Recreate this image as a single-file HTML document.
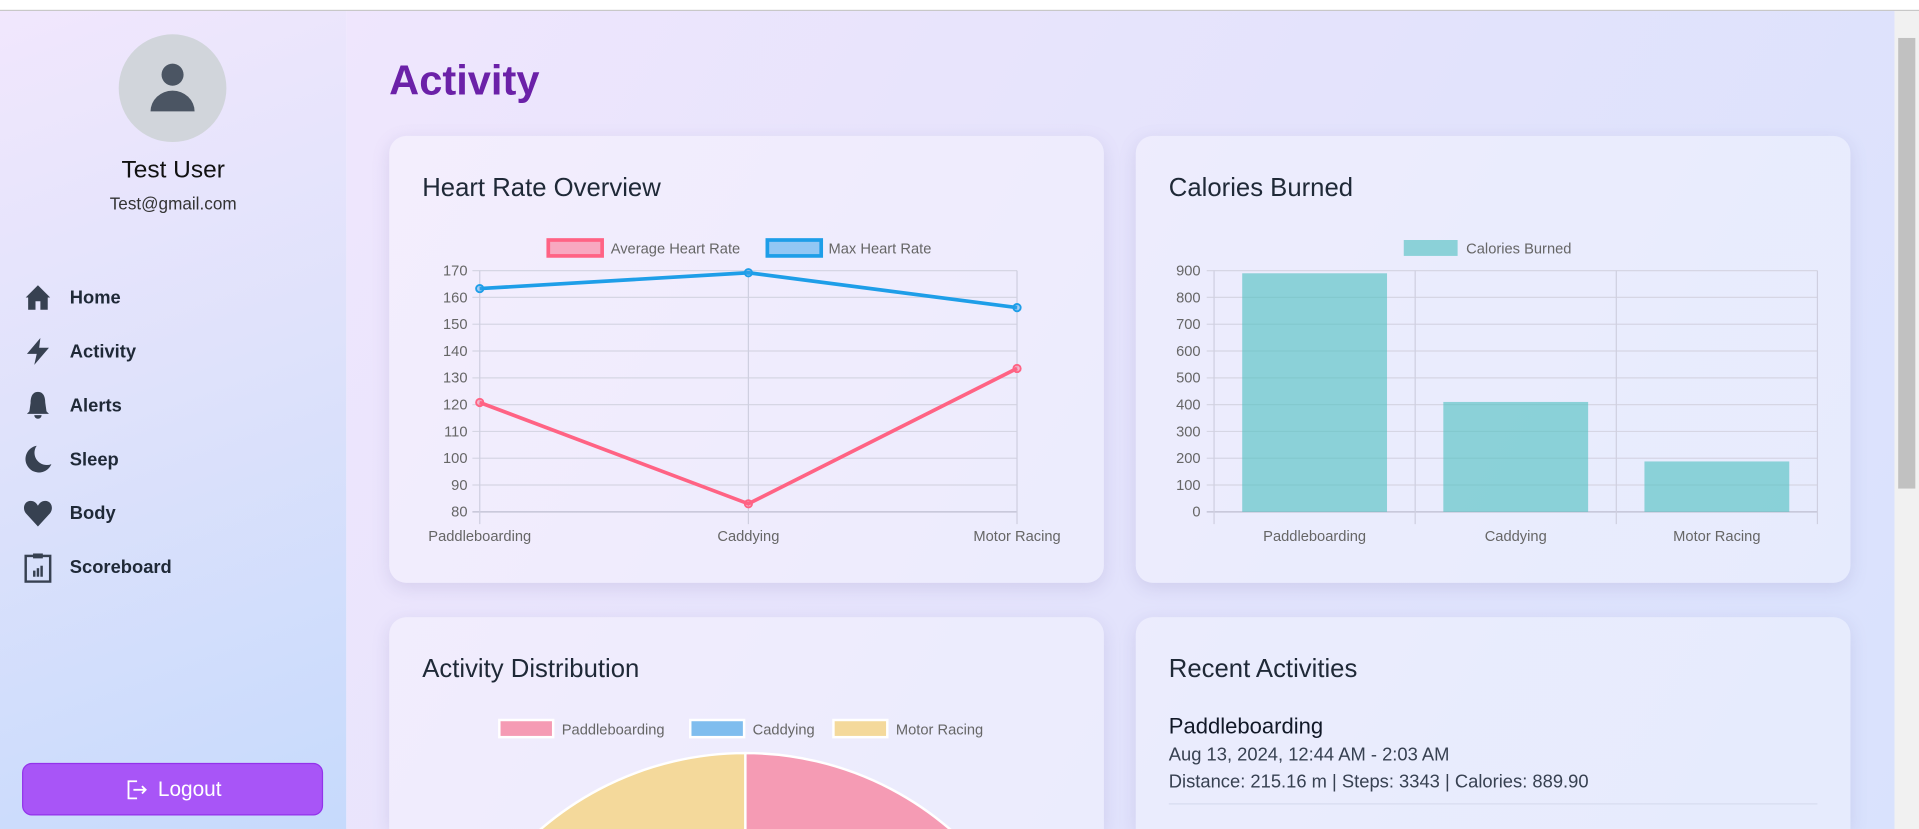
<!DOCTYPE html>
<html><head><meta charset="utf-8">
<style>
*{box-sizing:border-box;margin:0;padding:0}
html,body{width:1919px;height:829px;overflow:hidden;background:#fff}
#scale{position:absolute;left:0;top:0;width:1568px;height:677px;overflow:hidden;transform:scale(1.22385,1.2245);transform-origin:0 0;font-family:"Liberation Sans",sans-serif}
#topbar{position:absolute;left:0;top:0;width:1568px;height:9px;background:#fff;border-bottom:1px solid #c8c8c8}
#sidebar{position:absolute;left:0;top:9px;width:283px;height:668px;background:linear-gradient(160deg,#f1e7fd 0%,#dfe2fb 45%,#c6dafc 100%)}
#main{position:absolute;left:283px;top:9px;width:1265px;height:668px;background:linear-gradient(120deg,#efe6fd 0%,#e4e3fc 50%,#d9e2fd 100%);overflow:hidden}
#scroll{position:absolute;left:1548px;top:9px;width:20px;height:668px;background:#f1f1f1}
#thumb{position:absolute;left:3px;top:22px;width:14px;height:368px;background:#c1c1c1}
.card{position:absolute;width:584px;background:rgba(255,255,255,0.32);border-radius:14px;box-shadow:0 4px 14px rgba(120,110,170,0.18)}
.card.cut{height:173px;overflow:hidden;border-radius:14px 14px 0 0}
.ctitle{position:absolute;left:27px;top:31px;font-size:21px;color:#1f2937}
.nav{position:absolute;left:18px;height:26px;display:flex;align-items:center;font-weight:bold;font-size:15px;color:#1f2937}
.nav svg{width:26px;height:26px;margin-right:13px}
svg text{font-family:"Liberation Sans",sans-serif}
</style></head><body>
<div id="scale">
<div id="topbar"></div>
<div id="sidebar">
  <div style="position:absolute;left:97px;top:19px;width:88px;height:88px;border-radius:50%;background:#d1d5db">
    <svg width="88" height="88"><circle cx="44" cy="33" r="9" fill="#4b5563"/><path d="M26 63 a18 17 0 0 1 36 0 z" fill="#4b5563"/></svg>
  </div>
  <div style="position:absolute;left:0;width:283px;top:119px;text-align:center;font-size:20px;color:#111">Test User</div>
  <div style="position:absolute;left:0;width:283px;top:149px;text-align:center;font-size:14px;color:#333">Test@gmail.com</div>
  <div class="nav" style="top:221px"><svg viewBox="0 0 26 26"><path d="M3 13 L13 3 L23 13 L21 13 L21 23 L15 23 L15 16 L11 16 L11 23 L5 23 L5 13 Z" fill="#374151"/></svg>Home</div>
  <div class="nav" style="top:265px"><svg viewBox="0 0 26 26"><path d="M15 2 L4 15 L12 15 L10 24 L22 10 L14 10 Z" fill="#374151"/></svg>Activity</div>
  <div class="nav" style="top:309px"><svg viewBox="0 0 26 26"><path d="M13 2 C8 2 7 7 7 11 L6 18 L4 20 L22 20 L20 18 L19 11 C19 7 18 2 13 2 Z M10 21 a3 3 0 0 0 6 0 Z" fill="#374151"/></svg>Alerts</div>
  <div class="nav" style="top:353px"><svg viewBox="0 0 26 26"><path d="M12 2 A11 11 0 1 0 24 17 A10 10 0 0 1 12 2 Z" fill="#374151"/></svg>Sleep</div>
  <div class="nav" style="top:397px"><svg viewBox="0 0 26 26"><path d="M13 24 L3 13 C0 9 2 3 7 3 C10 3 12 5 13 7 C14 5 16 3 19 3 C24 3 26 9 23 13 Z" fill="#374151"/></svg>Body</div>
  <div class="nav" style="top:441px"><svg viewBox="0 0 26 26"><rect x="3" y="4" width="20" height="21" fill="none" stroke="#374151" stroke-width="2"/><rect x="9" y="2" width="8" height="4" fill="#374151"/><rect x="9" y="16" width="2" height="5" fill="#374151"/><rect x="12" y="14" width="2" height="7" fill="#374151"/><rect x="15" y="12" width="2" height="9" fill="#374151"/></svg>Scoreboard</div>
  <div style="position:absolute;left:18px;top:614px;width:246px;height:43px;border-radius:8px;background:#a855f7;border:1px solid #9333ea;color:#fff;font-size:17px;display:flex;align-items:center;justify-content:center">
    <svg width="20" height="20" viewBox="0 0 20 20" style="margin-right:8px"><path d="M11 3 H4 V17 H11 M8 10 H18 M15 7 L18 10 L15 13" fill="none" stroke="#fff" stroke-width="1.5"/></svg>Logout</div>
</div>
<div id="main">
  <div style="position:absolute;left:35px;top:38px;font-size:34px;font-weight:bold;color:#6b21a8">Activity</div>
</div>
<div class="card" style="left:318px;top:111px;height:365px">
  <div class="ctitle">Heart Rate Overview</div>
  <svg id="c1" width="584" height="365" style="position:absolute;left:0;top:0"></svg>
</div>
<div class="card" style="left:928px;top:111px;height:365px">
  <div class="ctitle">Calories Burned</div>
  <svg id="c2" width="584" height="365" style="position:absolute;left:0;top:0"></svg>
</div>
<div class="card cut" style="left:318px;top:504px">
  <div class="ctitle">Activity Distribution</div>
  <svg id="c3" width="584" height="173" style="position:absolute;left:0;top:0"></svg>
</div>
<div class="card cut" style="left:928px;top:504px">
  <div class="ctitle">Recent Activities</div>
  <div style="position:absolute;left:27px;top:79px;font-size:18px;color:#111827">Paddleboarding</div>
  <div style="position:absolute;left:27px;top:104px;font-size:15px;color:#374151">Aug 13, 2024, 12:44 AM - 2:03 AM</div>
  <div style="position:absolute;left:27px;top:126px;font-size:15px;color:#374151">Distance: 215.16 m | Steps: 3343 | Calories: 889.90</div>
  <div style="position:absolute;left:27px;top:152px;width:530px;height:1px;background:#d7dcef"></div>
</div>
<div id="scroll"><div id="thumb"></div></div>
</div>
<script>
const categories=["Paddleboarding","Caddying","Motor Racing"];
const avgHR=[120.8,83,133.5];
const maxHR=[163.3,169.2,156.2];
const hrTicks=[80,90,100,110,120,130,140,150,160,170];
const calories=[890,410,188];
const calTicks=[0,100,200,300,400,500,600,700,800,900];
const distValues=[1,1,1];
const distColors=["#f59bb4","#7fbdee","#f4d99b"];
const NS="http://www.w3.org/2000/svg";
function mk(svg,tag,attrs,text){const e=document.createElementNS(NS,tag);for(const k in attrs)e.setAttribute(k,attrs[k]);if(text!==undefined)e.textContent=text;svg.appendChild(e);return e;}
// Chart 1
(function(){
const s=document.getElementById('c1');
const x0=74,x1=513,yT=110,yB=307,vmin=80,vmax=170;
const xs=i=>x0+(x1-x0)*i/(categories.length-1);
const ys=v=>yB-(v-vmin)/(vmax-vmin)*(yB-yT);
hrTicks.forEach(t=>{const g=mk(s,'line',{x1:x0-6,x2:x1,y1:ys(t),y2:ys(t),stroke:t===vmin?'#bdbdd0':'#d6d6e4','stroke-width':1});

const tx=mk(s,'text',{x:x0-10,y:ys(t)+4,'text-anchor':'end','font-size':12,fill:'#666'},t);
});
categories.forEach((c,i)=>{const g=mk(s,'line',{x1:xs(i),x2:xs(i),y1:yT,y2:yB+10,stroke:'#cfcfe0'});

const tx=mk(s,'text',{x:xs(i),y:yB+24,'text-anchor':'middle','font-size':12,fill:'#666'},c);
});
[[avgHR,'#ff6384','rgba(255,99,132,0.4)','avg'],[maxHR,'#1e9ee8','rgba(54,162,235,0.4)','max']].forEach(([d,col,f,n])=>{
const p=mk(s,'polyline',{points:d.map((v,i)=>xs(i)+','+ys(v)).join(' '),fill:'none',stroke:col,'stroke-width':3});

d.forEach((v,i)=>{const c=mk(s,'circle',{cx:xs(i),cy:ys(v),r:3,fill:f,stroke:col,'stroke-width':1.5});
});});
const l1=mk(s,'rect',{x:130,y:85,width:44,height:13,fill:'rgba(255,99,132,0.5)',stroke:'#ff6384','stroke-width':3});

const t1=mk(s,'text',{x:181,y:96,'font-size':12,fill:'#666'},'Average Heart Rate');

const l2=mk(s,'rect',{x:309,y:85,width:44,height:13,fill:'rgba(54,162,235,0.5)',stroke:'#1e9ee8','stroke-width':3});

const t2=mk(s,'text',{x:359,y:96,'font-size':12,fill:'#666'},'Max Heart Rate');

})();
// Chart 2
(function(){
const s=document.getElementById('c2');
const x0=64,x1=557,yT=110,yB=307,vmax=900;
const bw=(x1-x0)/categories.length;
const ys=v=>yB-v/vmax*(yB-yT);
calTicks.forEach(t=>{const g=mk(s,'line',{x1:x0-6,x2:x1,y1:ys(t),y2:ys(t),stroke:t===0?'#bdbdd0':'#d6d6e4'});

const tx=mk(s,'text',{x:x0-11,y:ys(t)+4,'text-anchor':'end','font-size':12,fill:'#666'},t);
});
for(let i=0;i<=categories.length;i++){const g=mk(s,'line',{x1:x0+bw*i,x2:x0+bw*i,y1:yT,y2:yB+10,stroke:'#cfcfe0'});
}
categories.forEach((c,i)=>{const w=bw*0.72;const cx=x0+bw*(i+0.5);
const r=mk(s,'rect',{x:cx-w/2,y:ys(calories[i]),width:w,height:yB-ys(calories[i]),fill:'rgba(75,192,192,0.6)'});

const tx=mk(s,'text',{x:cx,y:yB+24,'text-anchor':'middle','font-size':12,fill:'#666'},c);
});
const l=mk(s,'rect',{x:219,y:85,width:44,height:13,fill:'rgba(75,192,192,0.6)'});

const t=mk(s,'text',{x:270,y:96,'font-size':12,fill:'#666'},'Calories Burned');

})();
// Chart 3
(function(){
const s=document.getElementById('c3');
const cx=291,cy=367,r=256;
const tot=distValues.reduce((a,b)=>a+b,0);
let a=-Math.PI/2;
distValues.forEach((v,i)=>{const b=a+v/tot*2*Math.PI;
const p=mk(s,'path',{d:`M${cx},${cy} L${cx+r*Math.cos(a)},${cy+r*Math.sin(a)} A${r},${r} 0 ${b-a>Math.PI?1:0} 1 ${cx+r*Math.cos(b)},${cy+r*Math.sin(b)} Z`,fill:distColors[i],stroke:'#fff','stroke-width':2});
a=b;});
const lx=[90,246,363];
categories.forEach((c,i)=>{const l=mk(s,'rect',{x:lx[i],y:84,width:44,height:14,fill:distColors[i],stroke:'#fff','stroke-width':2});

const t=mk(s,'text',{x:lx[i]+51,y:96,'font-size':12,fill:'#666'},c);
});
})();
</script>
</body></html>
